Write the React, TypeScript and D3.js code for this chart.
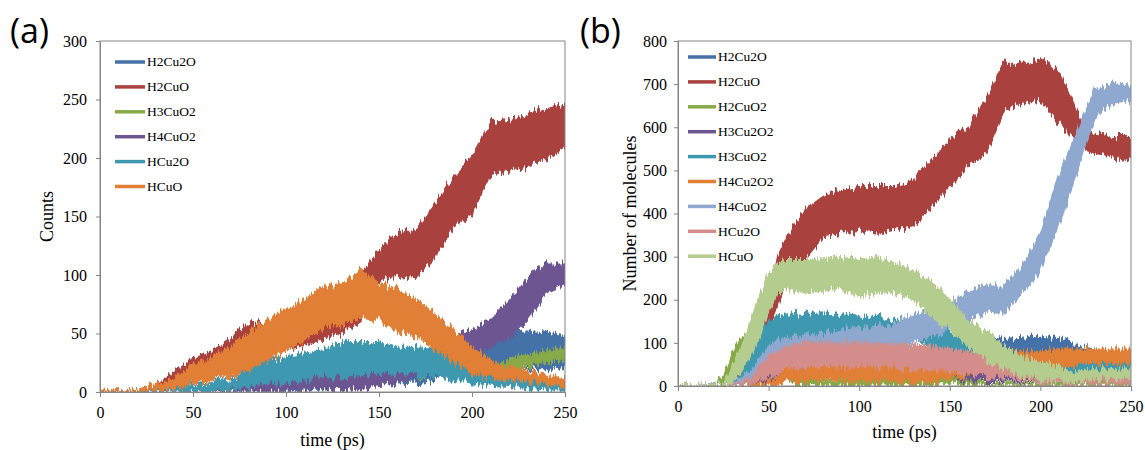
import React, { useRef, useEffect } from "react";
import * as d3 from "d3";

// each point: [time (ps), lower edge of the noisy band, upper edge]
type Pt = [number, number, number];

const xTicks = [0, 50, 100, 150, 200, 250];

// ---- panel (a) ----
const aNames = ["H2Cu2O", "H2CuO", "H3CuO2", "H4CuO2", "HCu2O", "HCuO"];
const aColors = ["#4471a7", "#a9423f", "#87a947", "#6d5591", "#3e98b0", "#e07f35"];
const aYTicks = [0, 50, 100, 150, 200, 250, 300];

const aH2Cu2O: Pt[] = [
  [0, 0, 0], [80, 0, 0], [90, 0, 3], [100, 0, 5], [120, 2, 9], [140, 3, 12], [150, 5, 14],
  [160, 7, 16], [170, 8, 18], [180, 10, 22], [190, 16, 32], [200, 22, 45], [210, 25, 50],
  [220, 22, 53], [230, 20, 52], [240, 20, 50], [250, 22, 48],
];
const aH2CuO: Pt[] = [
  [0, 0, 1], [20, 0, 2], [30, 2, 6], [40, 8, 16], [50, 16, 28], [60, 22, 35], [70, 28, 45],
  [80, 35, 58], [90, 36, 60], [100, 36, 58], [110, 40, 62], [120, 45, 72], [130, 50, 85],
  [140, 60, 100], [145, 90, 110], [150, 96, 121], [160, 98, 136], [170, 100, 138],
  [180, 115, 160], [190, 141, 184], [200, 153, 201], [210, 185, 230], [220, 190, 232],
  [230, 192, 238], [240, 200, 242], [250, 209, 246],
];
const aH3CuO2: Pt[] = [
  [0, 0, 0], [60, 0, 0], [80, 0, 4], [100, 2, 8], [120, 4, 12], [140, 8, 18], [150, 10, 22],
  [160, 12, 24], [180, 14, 26], [200, 14, 25], [210, 13, 23], [220, 17, 28], [230, 22, 32],
  [240, 26, 35], [250, 28, 38],
];
const aH4CuO2: Pt[] = [
  [0, 0, 0], [50, 0, 0], [60, 0, 3], [80, 0, 6], [100, 1, 10], [120, 3, 13], [140, 2, 17],
  [150, 5, 16], [160, 8, 18], [170, 12, 24], [180, 25, 40], [190, 28, 47], [200, 33, 53],
  [210, 38, 62], [220, 46, 78], [230, 62, 98], [240, 85, 110], [250, 92, 110],
];
const aHCu2O: Pt[] = [
  [0, 0, 0], [30, 0, 0], [40, 0, 4], [50, 0, 6], [60, 0, 8], [70, 2, 10], [80, 4, 19],
  [90, 8, 27], [100, 8, 30], [110, 10, 33], [120, 13, 36], [130, 13, 42], [140, 15, 42],
  [150, 15, 42], [160, 16, 38], [170, 15, 38], [180, 13, 36], [190, 10, 30], [200, 8, 25],
  [210, 6, 19], [220, 5, 14], [230, 3, 10], [240, 2, 9], [250, 2, 8],
];
const aHCuO: Pt[] = [
  [0, 0, 1], [20, 0, 2], [30, 1, 6], [40, 2, 10], [50, 8, 23], [60, 10, 30], [70, 13, 38],
  [80, 19, 50], [90, 27, 62], [100, 36, 70], [110, 44, 79], [120, 56, 90], [130, 56, 93],
  [140, 64, 104], [150, 62, 93], [160, 53, 87], [170, 47, 79], [180, 36, 67], [190, 27, 53],
  [200, 16, 38], [210, 13, 27], [220, 10, 21], [230, 9, 18], [240, 7, 15], [250, 5, 12],
];
const aSeries = [aH2Cu2O, aH2CuO, aH3CuO2, aH4CuO2, aHCu2O, aHCuO];

// ---- panel (b) ----
const bNames = ["H2Cu2O", "H2CuO", "H2CuO2", "H3Cu2O2", "H3CuO2", "H4Cu2O2", "H4CuO2", "HCu2O", "HCuO"];
const bColors = ["#4471a7", "#a9423f", "#87a947", "#6d5591", "#3e98b0", "#e07f35", "#8ea8cf", "#d48d8b", "#b4cc8e"];
const bYTicks = [0, 100, 200, 300, 400, 500, 600, 700, 800];

const bH2Cu2O: Pt[] = [
  [0, 0, 2], [30, 0, 3], [40, 2, 10], [50, 8, 25], [60, 15, 40], [80, 25, 55], [100, 30, 60],
  [120, 35, 70], [140, 45, 80], [150, 55, 90], [160, 65, 100], [170, 69, 112], [180, 69, 108],
  [190, 70, 110], [200, 69, 115], [210, 70, 112], [220, 62, 92], [230, 54, 85], [240, 52, 80],
  [250, 50, 78],
];
const bH2CuO: Pt[] = [
  [0, 0, 3], [25, 0, 4], [30, 2, 10], [35, 15, 35], [40, 46, 92], [45, 108, 154], [50, 131, 193],
  [55, 185, 300], [60, 247, 345], [70, 293, 408], [80, 346, 439], [90, 355, 455], [100, 362, 462],
  [110, 355, 462], [120, 362, 462], [130, 370, 478], [140, 416, 524], [150, 462, 570],
  [160, 509, 601], [170, 540, 663], [180, 640, 748], [190, 656, 748], [200, 663, 756],
  [210, 610, 733], [220, 570, 640], [225, 547, 594], [230, 540, 586], [240, 531, 578],
  [250, 524, 578],
];
const bH2CuO2: Pt[] = [
  [0, 0, 2], [20, 0, 3], [25, 3, 20], [30, 31, 77], [35, 62, 115], [40, 80, 125], [45, 80, 120],
  [50, 78, 115], [55, 77, 110], [58, 40, 80], [62, 5, 30], [70, 2, 12], [100, 0, 10],
  [140, 2, 12], [150, 5, 22], [160, 2, 12], [170, 0, 5], [250, 0, 3],
];
const bH3Cu2O2: Pt[] = [
  [0, 0, 2], [40, 0, 5], [50, 5, 20], [60, 20, 42], [80, 22, 45], [100, 22, 45], [120, 22, 45],
  [140, 20, 42], [160, 12, 32], [180, 10, 28], [200, 8, 22], [220, 8, 20], [250, 10, 20],
];
const bH3CuO2: Pt[] = [
  [0, 0, 2], [30, 0, 5], [35, 5, 25], [40, 31, 69], [45, 62, 123], [50, 92, 146], [60, 115, 169],
  [70, 112, 165], [80, 115, 169], [90, 115, 165], [100, 112, 162], [110, 108, 161],
  [120, 108, 154], [130, 108, 154], [140, 92, 146], [150, 77, 123], [160, 62, 108],
  [170, 54, 92], [180, 46, 85], [190, 38, 69], [200, 31, 62], [210, 28, 56], [220, 25, 54],
  [230, 31, 54], [240, 38, 62], [250, 36, 58],
];
const bH4Cu2O2: Pt[] = [
  [0, 0, 2], [40, 0, 3], [50, 0, 12], [60, 8, 38], [70, 12, 42], [80, 15, 46], [100, 12, 46],
  [120, 10, 46], [140, 10, 48], [150, 15, 54], [160, 23, 69], [170, 31, 77], [180, 38, 85],
  [190, 45, 80], [200, 50, 80], [210, 46, 85], [220, 50, 85], [230, 54, 85], [240, 54, 85],
  [250, 54, 85],
];
const bH4CuO2: Pt[] = [
  [0, 0, 2], [30, 0, 4], [40, 10, 30], [50, 46, 92], [60, 62, 115], [70, 69, 115], [80, 72, 120],
  [90, 77, 131], [100, 80, 135], [110, 85, 138], [120, 92, 146], [130, 100, 161],
  [140, 115, 177], [150, 131, 193], [160, 154, 216], [170, 170, 239], [180, 170, 231],
  [190, 216, 277], [200, 270, 355], [210, 370, 485], [220, 494, 586], [225, 563, 640],
  [230, 624, 686], [240, 656, 702], [250, 663, 694],
];
const bHCu2O: Pt[] = [
  [0, 0, 2], [35, 0, 4], [40, 5, 15], [50, 23, 69], [60, 38, 92], [70, 46, 100], [80, 46, 100],
  [100, 46, 100], [120, 42, 96], [140, 38, 92], [150, 31, 85], [160, 28, 80], [170, 23, 69],
  [180, 18, 58], [190, 15, 46], [200, 8, 38], [210, 8, 31], [220, 5, 23], [230, 5, 23],
  [250, 5, 25],
];
const bHCuO: Pt[] = [
  [0, 0, 2], [25, 0, 4], [30, 8, 46], [35, 31, 92], [40, 69, 154], [45, 115, 208], [50, 170, 262],
  [55, 216, 285], [60, 224, 293], [70, 216, 293], [80, 220, 295], [90, 225, 300], [100, 208, 293],
  [110, 216, 300], [120, 216, 285], [130, 200, 270], [140, 161, 239], [150, 131, 200],
  [160, 92, 154], [170, 62, 123], [180, 38, 92], [190, 23, 69], [200, 15, 54], [210, 15, 46],
  [220, 8, 31], [230, 15, 38], [240, 18, 40], [250, 20, 42],
];
const bSeries = [bH2Cu2O, bH2CuO, bH2CuO2, bH3Cu2O2, bH3CuO2, bH4Cu2O2, bH4CuO2, bHCu2O, bHCuO];

const SERIF = "'Liberation Serif', 'Times New Roman', serif";
const GREY = "#868686";

function drawPanel(svg: any, p: any) {
  const x = d3.scaleLinear().domain([0, 250]).range([p.left, p.right]);
  const y = d3.scaleLinear().domain([0, p.yTicks[p.yTicks.length - 1]]).range([p.bottom, p.top]);

  svg
    .select("defs")
    .append("clipPath")
    .attr("id", p.id + "-clip")
    .append("rect")
    .attr("x", p.left)
    .attr("y", p.top)
    .attr("width", p.right - p.left)
    .attr("height", p.bottom - p.top);

  const band = d3
    .area<Pt>()
    .x((d) => x(d[0]))
    .y0((d) => y(d[1]))
    .y1((d) => y(d[2]));

  const plot = svg
    .append("g")
    .attr("clip-path", `url(#${p.id}-clip)`)
    .append("g")
    .attr("filter", "url(#jag)");

  p.series.forEach((s: Pt[], i: number) => {
    plot
      .append("path")
      .attr("d", band(s))
      .attr("fill", p.colors[i])
      .attr("stroke", p.colors[i])
      .attr("stroke-width", 1.5)
      .attr("stroke-linejoin", "round");
  });

  // frame
  svg
    .append("rect")
    .attr("x", p.left)
    .attr("y", p.top)
    .attr("width", p.right - p.left)
    .attr("height", p.bottom - p.top)
    .attr("fill", "none")
    .attr("stroke", GREY);

  const yAxis = svg
    .append("g")
    .attr("transform", `translate(${p.left},0)`)
    .call(d3.axisLeft(y).tickValues(p.yTicks).tickSize(4).tickPadding(p.yPad).tickFormat(d3.format("d")));
  const xAxis = svg
    .append("g")
    .attr("transform", `translate(0,${p.bottom})`)
    .call(d3.axisBottom(x).tickValues(xTicks).tickSize(5).tickPadding(10).tickFormat(d3.format("d")));
  [yAxis, xAxis].forEach((a) => {
    a.attr("font-family", SERIF).attr("font-size", 16);
    a.selectAll("path, line").attr("stroke", GREY);
    a.selectAll("text").attr("fill", "#000");
  });

  // axis titles
  svg
    .append("text")
    .attr("x", (p.left + p.right) / 2)
    .attr("y", p.xTitleY)
    .attr("text-anchor", "middle")
    .attr("font-family", SERIF)
    .attr("font-size", 18)
    .text("time (ps)");
  svg
    .append("text")
    .attr("transform", `translate(${p.yTitleX},${(p.top + p.bottom) / 2}) rotate(-90)`)
    .attr("text-anchor", "middle")
    .attr("font-family", SERIF)
    .attr("font-size", 18)
    .text(p.yTitle);

  // panel tag
  svg
    .append("text")
    .attr("x", p.tagX)
    .attr("y", 43)
    .attr("font-family", "'Open Sans', sans-serif")
    .attr("font-size", 34)
    .text(p.tag);

  // legend
  const leg = svg.append("g").attr("transform", `translate(${p.legX},${p.legY})`);
  p.names.forEach((n: string, i: number) => {
    const row = leg.append("g").attr("transform", `translate(0,${i * 24.9})`);
    row
      .append("line")
      .attr("x1", 0)
      .attr("x2", p.legLen)
      .attr("stroke", p.colors[i])
      .attr("stroke-width", 3.5);
    row
      .append("text")
      .attr("x", p.legLen + 2)
      .attr("dy", "0.33em")
      .attr("font-family", SERIF)
      .attr("font-size", 13.5)
      .text(n);
  });
}

const App = () => {
  const ref = useRef<SVGSVGElement>(null);

  useEffect(() => {
    if (!ref.current) return;
    const svg = d3.select(ref.current);
    svg.selectAll("*").remove();

    const defs = svg.append("defs");
    // jagged edges for the noisy MD traces
    const f = defs
      .append("filter")
      .attr("id", "jag")
      .attr("filterUnits", "userSpaceOnUse")
      .attr("x", 0)
      .attr("y", 0)
      .attr("width", 1145)
      .attr("height", 450)
      .attr("color-interpolation-filters", "sRGB");
    f.append("feTurbulence")
      .attr("type", "fractalNoise")
      .attr("baseFrequency", "0.45 0.02")
      .attr("numOctaves", 2)
      .attr("seed", 4)
      .attr("result", "noise");
    const ct = f.append("feComponentTransfer").attr("in", "noise").attr("result", "map");
    ct.append("feFuncR").attr("type", "linear").attr("slope", 0).attr("intercept", 0.5);
    ct.append("feFuncA").attr("type", "linear").attr("slope", 0).attr("intercept", 1);
    f.append("feDisplacementMap")
      .attr("in", "SourceGraphic")
      .attr("in2", "map")
      .attr("scale", 16)
      .attr("xChannelSelector", "R")
      .attr("yChannelSelector", "G");

    drawPanel(svg, {
      id: "a", left: 100, right: 565, top: 41, bottom: 392,
      yTicks: aYTicks, yPad: 9, series: aSeries, colors: aColors, names: aNames,
      yTitle: "Counts", yTitleX: 53, xTitleY: 446, tag: "(a)", tagX: 10,
      legX: 115, legY: 62, legLen: 30,
    });
    drawPanel(svg, {
      id: "b", left: 678, right: 1131, top: 41, bottom: 386,
      yTicks: bYTicks, yPad: 7, series: bSeries, colors: bColors, names: bNames,
      yTitle: "Number of molecules", yTitleX: 636, xTitleY: 438, tag: "(b)", tagX: 580,
      legX: 688, legY: 57, legLen: 28,
    });
  }, []);

  return (
    <svg
      ref={ref}
      width={1145}
      height={450}
      style={{ position: "absolute", left: 0, top: 0, display: "block" }}
    />
  );
};

export default App;
